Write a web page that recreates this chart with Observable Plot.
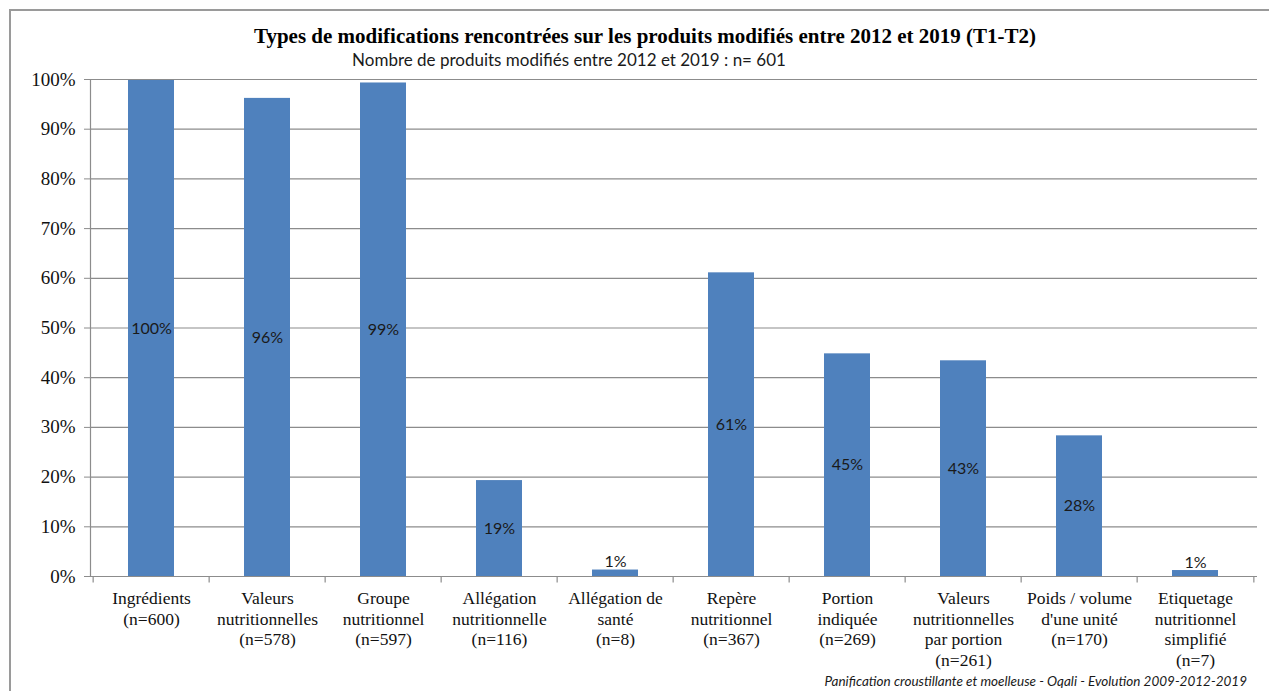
<!DOCTYPE html>
<html>
<head>
<meta charset="utf-8">
<script src="https://cdn.jsdelivr.net/npm/d3@7"></script>
<script src="https://cdn.jsdelivr.net/npm/@observablehq/plot@0.6"></script>
<style>
  html, body { margin: 0; padding: 0; background: #fff; }
  #wrap { position: relative; width: 1269px; height: 691px; overflow: hidden; }
  #border { position: absolute; left: 9px; top: 9px; width: 1300px; height: 700px;
            border-left: 2px solid #9a9a9a; border-top: 2px solid #9a9a9a; }
  #title { position: absolute; top: 24px; left: 645px; transform: translateX(-50%);
           white-space: nowrap; font: bold 21px "Liberation Serif", serif; color: #000; }
  #subtitle { position: absolute; top: 49px; left: 569px; transform: translateX(-50%);
              white-space: nowrap; font: 17px Lato, sans-serif; color: #1a1a1a; }
  #chart { position: absolute; top: 60px; left: 0; }
  #caption { position: absolute; top: 673px; right: 22px; white-space: nowrap; line-height: 16px;
             font: italic 13.5px Lato, sans-serif; color: #1a1a1a; }
</style>
</head>
<body>
<div id="wrap">
  <div id="border"></div>
  <div id="title">Types de modifications rencontrées sur les produits modifiés entre 2012 et 2019 (T1-T2)</div>
  <div id="subtitle">Nombre de produits modifiés entre 2012 et 2019 : n= 601</div>
  <div id="chart"></div>
  <div id="caption">Panification croustillante et moelleuse - Oqali - Evolution 2009-2012-2019</div>
</div>
<script>
const names = ["Ingrédients", "Valeurs\nnutritionnelles", "Groupe\nnutritionnel", "Allégation\nnutritionnelle",
  "Allégation de\nsanté", "Repère\nnutritionnel", "Portion\nindiquée", "Valeurs\nnutritionnelles\npar portion",
  "Poids / volume\nd'une unité", "Etiquetage\nnutritionnel\nsimplifié"];
const counts = [600, 578, 597, 116, 8, 367, 269, 261, 170, 7];
const percents = [99.8, 96.2, 99.3, 19.3, 1.3, 61.1, 44.8, 43.4, 28.3, 1.2];
const yTicks = [0, 10, 20, 30, 40, 50, 60, 70, 80, 90, 100];

const data = names.map((name, i) => ({ key: name + "\n(n=" + counts[i] + ")", value: percents[i] }));
const keys = data.map(d => d.key);

const W = 1269, H = 615, mL = 90, mR = 12, mT = 19, mB = 99;
const step = (W - mL - mR) / keys.length;
const big = data.filter(d => d.value >= 5);
const small = data.filter(d => d.value < 5);

const chart = Plot.plot({
  width: W, height: H,
  marginLeft: mL, marginRight: mR, marginTop: mT, marginBottom: mB,
  style: { fontFamily: "Liberation Serif, serif", fontSize: "17px", color: "#111", background: "transparent", overflow: "visible" },
  x: { domain: keys, paddingInner: 0.6, paddingOuter: 0.3 },
  y: { domain: [0, 100] },
  marks: [
    Plot.ruleY(yTicks, { y: d => d, stroke: "#8c8c8c", strokeWidth: 1.2 }),
    Plot.barY(data, { x: "key", y: "value", fill: "#4f81bd" }),
    Plot.ruleX(keys, { x: d => d, dx: -step / 2, y1: 0, y2: -1.3, stroke: "#8c8c8c", strokeWidth: 1.2 }),
    Plot.ruleX(keys.slice(-1), { x: d => d, dx: step / 2, y1: 0, y2: -1.3, stroke: "#8c8c8c", strokeWidth: 1.2 }),
    Plot.frame({ anchor: "left", stroke: "#8c8c8c", strokeWidth: 1.2 }),
    Plot.axisY({ ticks: yTicks, tickFormat: d => d + "%", tickSize: 6, tickPadding: 9, stroke: "#8c8c8c", fontSize: 19, label: null }),
    Plot.axisX({ tickSize: 0, tickPadding: 13, fontSize: 17.5, lineHeight: 1.18, label: null, textOverflow: null, lineWidth: 100 }),
    Plot.text(big, { x: "key", y: d => d.value / 2, text: d => Math.round(d.value) + "%", fontFamily: "Lato, sans-serif", fontSize: 16, fill: "#1a1a1a" }),
    Plot.text(small, { x: "key", y: "value", text: d => Math.round(d.value) + "%", lineAnchor: "bottom", dy: -3, fontFamily: "Lato, sans-serif", fontSize: 16, fill: "#1a1a1a" })
  ]
});
document.getElementById("chart").appendChild(chart);
</script>
</body>
</html>
